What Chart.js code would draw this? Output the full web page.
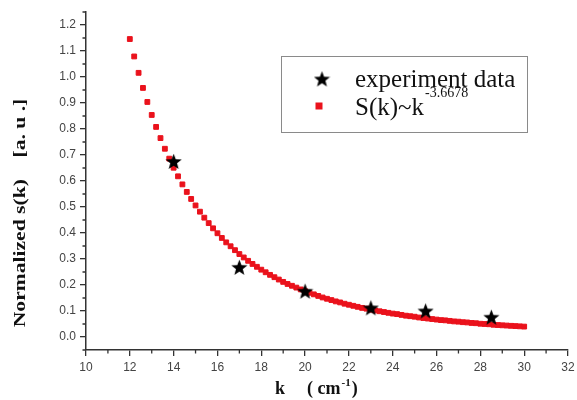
<!DOCTYPE html>
<html><head><meta charset="utf-8">
<script src="https://cdn.jsdelivr.net/npm/chart.js@4.4.1/dist/chart.umd.min.js"></script>
<style>html,body{margin:0;padding:0;background:#fff;}#wrap{width:577px;height:400px;position:relative;}</style>
</head><body><div id="wrap"><canvas id="c" width="577" height="400"></canvas></div>
<script>
// ---- data ----
const expK = [14, 17, 20, 23, 25.5, 28.5];
const expS = [0.675, 0.268, 0.176, 0.112, 0.100, 0.076];

const fitK = [12.0,12.2,12.4,12.6,12.8,13.0,13.2,13.4,13.6,13.8,14.0,14.2,14.4,14.6,14.8,15.0,15.2,15.4,15.6,15.8,
  16.0,16.2,16.4,16.6,16.8,17.0,17.2,17.4,17.6,17.8,18.0,18.2,18.4,18.6,18.8,19.0,19.2,19.4,19.6,19.8,
  20.0,20.2,20.4,20.6,20.8,21.0,21.2,21.4,21.6,21.8,22.0,22.2,22.4,22.6,22.8,23.0,23.2,23.4,23.6,23.8,
  24.0,24.2,24.4,24.6,24.8,25.0,25.2,25.4,25.6,25.8,26.0,26.2,26.4,26.6,26.8,27.0,27.2,27.4,27.6,27.8,
  28.0,28.2,28.4,28.6,28.8,29.0,29.2,29.4,29.6,29.8,30.0];
const fitS = [1.146,1.079,1.016,0.958,0.904,0.854,0.808,0.765,0.724,0.686,0.651,0.618,0.587,0.558,0.531,0.506,0.482,0.459,0.438,0.418,
  0.399,0.381,0.364,0.349,0.334,0.319,0.306,0.293,0.281,0.270,0.259,0.249,0.239,0.230,0.221,0.212,0.204,0.197,0.190,0.183,
  0.176,0.170,0.164,0.158,0.152,0.147,0.142,0.137,0.133,0.128,0.124,0.120,0.116,0.112,0.109,0.105,0.102,0.099,0.096,0.093,
  0.090,0.088,0.085,0.082,0.080,0.078,0.075,0.073,0.071,0.069,0.067,0.065,0.064,0.062,0.060,0.059,0.057,0.056,0.054,0.053,
  0.051,0.050,0.049,0.047,0.046,0.045,0.044,0.043,0.042,0.041,0.040];

const xTickValues = [10,12,14,16,18,20,22,24,26,28,30,32];
const xMinorValues = [11,13,15,17,19,21,23,25,27,29,31];
const yTickValues = [0.0,0.1,0.2,0.3,0.4,0.5,0.6,0.7,0.8,0.9,1.0,1.1,1.2];
const yMinorValues = [-0.05,0.05,0.15,0.25,0.35,0.45,0.55,0.65,0.75,0.85,0.95,1.05,1.15,1.25];

const seriesLabels = ['experiment data', 'S(k)~k^-3.6678'];
const legendMain = ['experiment data', 'S(k)~k'];
const legendSup = ['', '-3.6678'];
const yTitle = 'Normalized s(k)    [a. u .]';
const xTitleParts = ['k', '( cm', '-1', ')'];

const RED = '#ea121c';
const AXIS = '#333';

function makeStar(size, color) {
  const c = document.createElement('canvas');
  c.width = size; c.height = size;
  const g = c.getContext('2d');
  const R = size / 2, r = R * 0.42, cx = size / 2, cy = size / 2 + R * 0.08;
  g.fillStyle = color;
  g.beginPath();
  for (let i = 0; i < 10; i++) {
    const a = -Math.PI / 2 + i * Math.PI / 5;
    const rad = i % 2 ? r : R;
    const px = cx + rad * Math.cos(a), py = cy + rad * Math.sin(a);
    if (i === 0) g.moveTo(px, py); else g.lineTo(px, py);
  }
  g.closePath();
  g.fill();
  return c;
}
const starImg = makeStar(17, '#000');
const starLegend = makeStar(17, '#000');

const decor = {
  id: 'decor',
  afterDraw(chart) {
    const ctx = chart.ctx;
    const xs = chart.scales.x, ys = chart.scales.y;
    ctx.save();
    // minor ticks
    ctx.strokeStyle = AXIS; ctx.lineWidth = 1.3;
    ctx.beginPath();
    xMinorValues.forEach(v => { const p = xs.getPixelForValue(v); ctx.moveTo(p, xs.top); ctx.lineTo(p, xs.top + 3.5); });
    yMinorValues.forEach(v => { const p = ys.getPixelForValue(v); ctx.moveTo(ys.right, p); ctx.lineTo(ys.right - 3.5, p); });
    ctx.stroke();

    // y title
    ctx.fillStyle = '#111';
    ctx.save();
    ctx.translate(21, 213);
    ctx.rotate(-Math.PI / 2);
    ctx.scale(1.27, 1);
    ctx.font = 'bold 17px "Liberation Serif"';
    ctx.textAlign = 'center'; ctx.textBaseline = 'middle';
    ctx.fillText(yTitle, 0, 0);
    ctx.restore();

    // x title
    ctx.font = 'bold 18px "Liberation Serif"';
    ctx.textAlign = 'left'; ctx.textBaseline = 'alphabetic';
    ctx.fillText(xTitleParts[0], 275, 394);
    let x = 307;
    ctx.fillText(xTitleParts[1], x, 394);
    x += ctx.measureText(xTitleParts[1]).width + 1;
    ctx.font = 'bold 11px "Liberation Serif"';
    ctx.fillText(xTitleParts[2], x, 386);
    x += ctx.measureText(xTitleParts[2]).width + 1;
    ctx.font = 'bold 18px "Liberation Serif"';
    ctx.fillText(xTitleParts[3], x, 394);

    // legend
    ctx.strokeStyle = '#8a8a8a'; ctx.lineWidth = 1;
    ctx.strokeRect(281.5, 56.5, 246, 76);
    ctx.drawImage(starLegend, 322 - 8.5, 79 - 8.5);
    ctx.fillStyle = RED;
    ctx.fillRect(319 - 3.5, 106 - 3.5, 7, 7);
    ctx.fillStyle = '#111';
    ctx.font = '25px "Liberation Serif"';
    ctx.textBaseline = 'middle';
    ctx.fillText(legendMain[0], 355, 80);
    ctx.fillText(legendMain[1], 355, 108);
    const w = ctx.measureText(legendMain[1]).width;
    ctx.font = '14px "Liberation Serif"';
    ctx.fillText(legendSup[1], 355 + w + 1, 93);
    ctx.restore();
  }
};

new Chart(document.getElementById('c'), {
  type: 'scatter',
  data: {
    datasets: [
      {
        label: seriesLabels[0],
        data: expK.map((k, i) => ({x: k, y: expS[i]})),
        pointStyle: starImg, pointRadius: 8, showLine: false,
        backgroundColor: '#000', borderColor: '#000'
      },
      {
        label: seriesLabels[1],
        data: fitK.map((k, i) => ({x: k, y: fitS[i]})),
        pointStyle: 'rect', pointRadius: 3.4, borderWidth: 1, showLine: false,
        backgroundColor: RED, borderColor: RED
      }
    ]
  },
  options: {
    responsive: false, animation: false, devicePixelRatio: 1,
    layout: {padding: {top: 12, right: 6, left: 0, bottom: 0}},
    plugins: {legend: {display: false}, tooltip: {enabled: false}},
    scales: {
      x: {
        type: 'linear', min: 10, max: 32,
        afterBuildTicks: s => { s.ticks = xTickValues.map(v => ({value: v})); },
        afterFit: s => { s.height = 50; s.paddingLeft = 0; s.paddingRight = 0; },
        grid: {drawOnChartArea: false, drawTicks: true, tickLength: 6, color: AXIS, lineWidth: 1.3},
        border: {display: true, color: AXIS, width: 1.5},
        ticks: {font: {family: 'Liberation Sans', size: 12}, color: '#444', padding: 4, maxRotation: 0, autoSkip: false,
          callback: v => String(v)}
      },
      y: {
        type: 'linear', min: -0.05, max: 1.25,
        afterBuildTicks: s => { s.ticks = yTickValues.map(v => ({value: v})); },
        afterFit: s => { s.width = 86; s.paddingTop = 0; s.paddingBottom = 0; },
        grid: {drawOnChartArea: false, drawTicks: true, tickLength: 6, color: AXIS, lineWidth: 1.3},
        border: {display: true, color: AXIS, width: 1.5},
        ticks: {font: {family: 'Liberation Sans', size: 12}, color: '#444', padding: 4, autoSkip: false,
          callback: v => Number(v).toFixed(1)}
      }
    }
  },
  plugins: [decor]
});
</script>
</body></html>
